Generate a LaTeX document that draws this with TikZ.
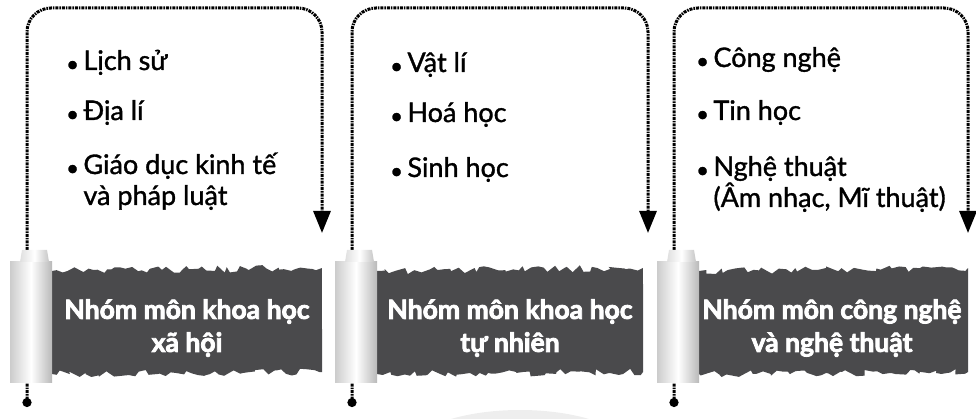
\documentclass[tikz,border=0pt]{standalone}
\usepackage{fontspec}
\setmainfont{Lato}
\newfontfamily\itemfont{Lato}[FakeBold=1.2]
\newfontfamily\banfont{Lato}[FakeBold=3]
\usetikzlibrary{arrows.meta,decorations.pathmorphing}
\definecolor{bannergray}{HTML}{4A4A4C}
\newcommand{\bul}{\raisebox{-0.06em}{\fontsize{22}{22}\selectfont •}\,}

\begin{document}
\begin{tikzpicture}[x=1pt, y=-1pt,
    item/.style={anchor=base west, inner sep=0pt, align=left, font=\fontsize{27}{31}\itemfont},
    bantext/.style={text=white, align=center, font=\fontsize{26.5}{33}\banfont\bfseries},
    flow/.style={line width=3pt, dash pattern=on 3pt off 1pt on 1.5pt off 1pt, rounded corners=24pt,
        {Circle[length=9pt]}-{Triangle[width=17pt,length=22pt]}},
    rip/.style={decoration={random steps, segment length=5pt, amplitude=3.5pt}}]
    \useasboundingbox (0,0) rectangle (976,419);
    \pgfmathsetseed{7}

    % Shadow under the middle
    \fill[gray!13] (520,455) ellipse (115 and 45);

    % Dotted connectors
    \foreach \i/\l/\r in {1/27/322, 2/352/648, 3/674/968} {
        \coordinate (s\i) at (\l,407);
        \coordinate (t\i) at (\r,8);
        \coordinate (e\i) at (\r,233);
        \draw[flow] (s\i) |- (t\i) -- (e\i);
    }

    % Torn banners with the rolls
    \foreach \l/\br in {27/322, 352/643, 674/968} {
        \fill[bannergray] (\l+25,271) decorate[rip]{-- (\br,268)} -- (\br,372)
            decorate[rip]{-- (\l+25,374)} -- cycle;
        \shade[left color=gray!40, right color=gray!55, middle color=white]
            (\l-17,262) rectangle (\l+25,382);
        \shade[left color=gray!25, right color=gray!45, middle color=white]
            (\l-5,250) -- (\l+20,250) -- (\l+22,262) -- (\l-7,262) -- cycle;
    }

    % Subject lists
    \node[item] (a1) at (66,70) {\bul Lịch sử};
    \node[item] (a2) at (66,120) {\bul Địa lí};
    \node[item] (a3) at (66,205) {\bul Giáo dục kinh tế\\\phantom{\bul}và pháp luật};

    \node[item] (b1) at (390,72) {\bul Vật lí};
    \node[item] (b2) at (390,122) {\bul Hoá học};
    \node[item] (b3) at (390,177) {\bul Sinh học};

    \node[item] (c1) at (696,67) {\bul Công nghệ};
    \node[item] (c2) at (696,120) {\bul Tin học};
    \node[item] (c3) at (696,207) {\bul Nghệ thuật\\\phantom{\bul}(Âm nhạc, Mĩ thuật)};

    % Group names
    \node[bantext] (g1) at (187,328) {Nhóm môn khoa học\\xã hội};
    \node[bantext] (g2) at (510,328) {Nhóm môn khoa học\\tự nhiên};
    \node[bantext] (g3) at (832,328) {Nhóm môn công nghệ\\và nghệ thuật};
\end{tikzpicture}
\end{document}
